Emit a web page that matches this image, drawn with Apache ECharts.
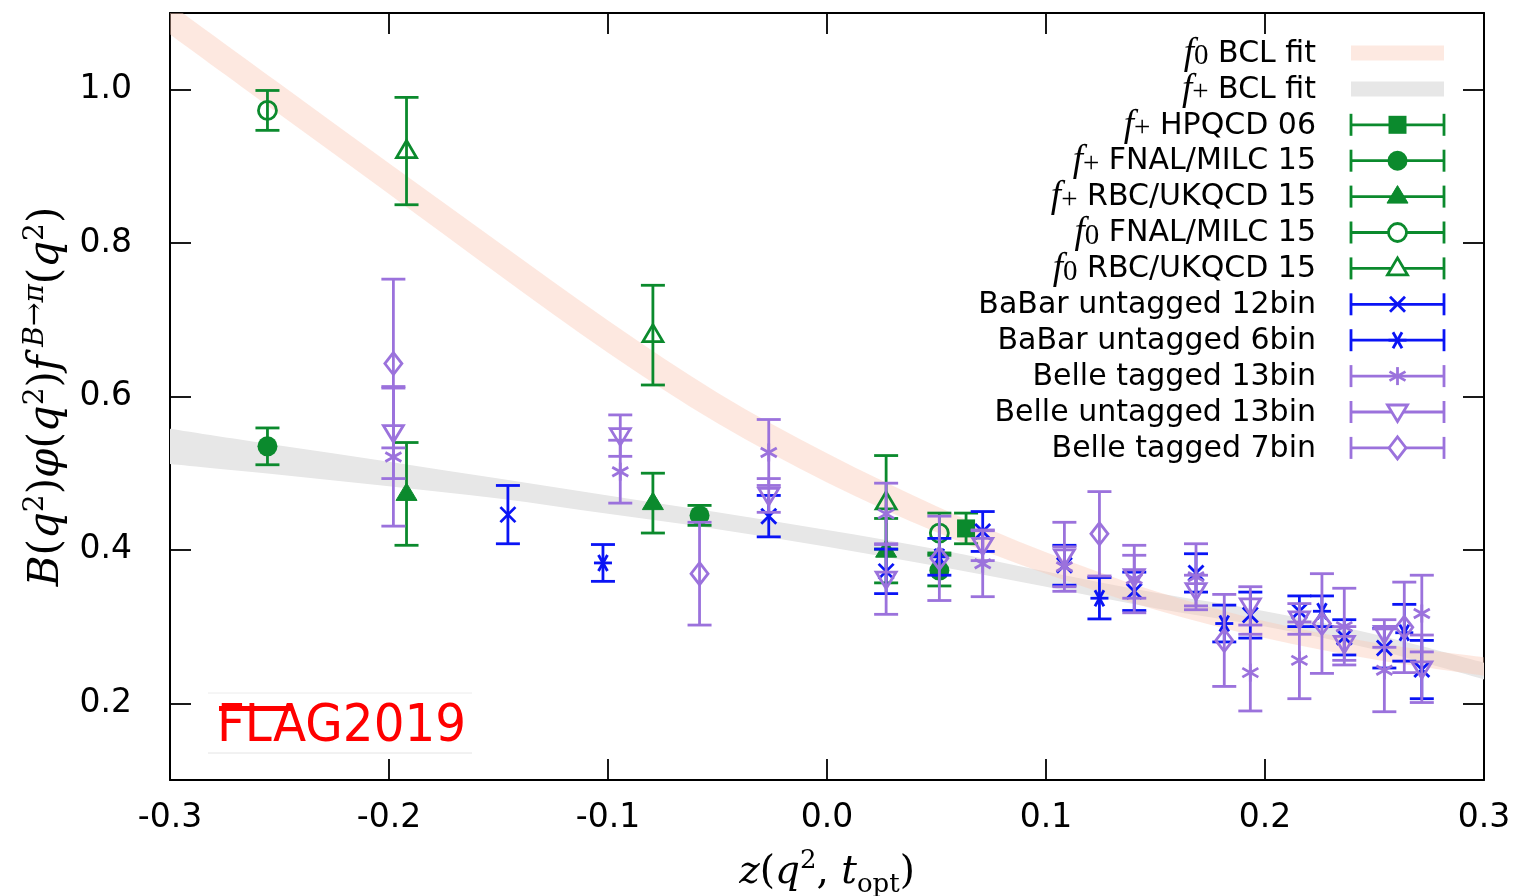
<!DOCTYPE html>
<html><head><meta charset="utf-8">
<script src="https://cdn.jsdelivr.net/npm/echarts@6/dist/echarts.min.js"></script>
<style>html,body{margin:0;padding:0;background:#fff}#c{width:1517px;height:896px}</style>
</head><body><div id="c"></div>
<script>
// ---------------- data ----------------
const xTickLabels = ['-0.3', '-0.2', '-0.1', '0.0', '0.1', '0.2', '0.3'];
const yTickLabels = ['0.2', '0.4', '0.6', '0.8', '1.0'];

// BCL fit bands (centre and half-width)
const bandZ      = [-0.30, -0.25, -0.20, -0.15, -0.10, -0.05, 0.00, 0.05, 0.10, 0.15, 0.20, 0.25, 0.30];
const f0Center   = [1.092, 0.988, 0.884, 0.780, 0.678, 0.585, 0.507, 0.440, 0.383, 0.334, 0.296, 0.268, 0.248];
const f0HalfW    = [0.020, 0.020, 0.020, 0.021, 0.021, 0.020, 0.019, 0.017, 0.014, 0.012, 0.011, 0.011, 0.012];
const fpCenter   = [0.535, 0.517, 0.499, 0.480, 0.459, 0.438, 0.415, 0.390, 0.362, 0.334, 0.310, 0.280, 0.242];
const fpHalfW    = [0.023, 0.019, 0.016, 0.013, 0.012, 0.011, 0.011, 0.011, 0.010, 0.010, 0.010, 0.010, 0.011];

// lattice
const hpqcdZ = [0.0635];                     const hpqcdV = [0.428];                 const hpqcdE = [0.020];
const fnalPZ = [-0.2555, -0.0582, 0.0513];   const fnalPV = [0.535, 0.445, 0.373];   const fnalPE = [0.024, 0.013, 0.020];
const rbcPZ  = [-0.192, -0.0795, 0.027];     const rbcPV  = [0.473, 0.461, 0.399];   const rbcPE  = [0.067, 0.039, 0.042];
const fnal0Z = [-0.2555, 0.0513];            const fnal0V = [0.973, 0.422];          const fnal0E = [0.026, 0.026];
const rbc0Z  = [-0.192, -0.0795, 0.027];     const rbc0V  = [0.920, 0.680, 0.462];   const rbc0E  = [0.070, 0.065, 0.061];

// experiment
const babar12Z = [-0.1457, -0.0266, 0.027, 0.0711, 0.1084, 0.1403, 0.1685, 0.1933, 0.2157, 0.2362, 0.2545, 0.2716];
const babar12V = [0.446, 0.444, 0.372, 0.424, 0.380, 0.346, 0.370, 0.315, 0.320, 0.286, 0.272, 0.244];
const babar12E = [0.038, 0.027, 0.029, 0.026, 0.026, 0.025, 0.025, 0.030, 0.020, 0.023, 0.026, 0.038];
const babar6Z  = [-0.1023, 0.0513, 0.1244, 0.1814, 0.226, 0.2636];
const babar6V  = [0.383, 0.391, 0.337, 0.304, 0.320, 0.292];
const babar6E  = [0.024, 0.024, 0.027, 0.024, 0.020, 0.037];
const belle13Z = [-0.198, -0.0944, -0.0266, 0.027, 0.0711, 0.1084, 0.1403, 0.1685, 0.1933, 0.2157, 0.2362, 0.2545, 0.2716];
const belleT13V = [0.521, 0.502, 0.527, 0.447, 0.382, 0.378, 0.362, 0.365, 0.240, 0.256, 0.300, 0.243, 0.317];
const belleT13E = [0.090, 0.041, 0.043, 0.040, 0.043, 0.026, 0.044, 0.043, 0.050, 0.050, 0.050, 0.054, 0.050];
const belleU13V = [0.553, 0.549, 0.471, 0.362, 0.406, 0.391, 0.365, 0.347, 0.327, 0.310, 0.278, 0.291, 0.245];
const belleU13E = [0.060, 0.027, 0.022, 0.046, 0.020, 0.045, 0.028, 0.020, 0.025, 0.020, 0.022, 0.018, 0.044];
const belle7Z  = [-0.198, -0.0582, 0.0513, 0.1244, 0.1814, 0.226, 0.2636];
const belle7V  = [0.643, 0.369, 0.389, 0.421, 0.282, 0.304, 0.299];
const belle7E  = [0.110, 0.067, 0.055, 0.055, 0.060, 0.065, 0.059];

// ---------------- style ----------------
const SANS = 'DejaVu Sans';
const SERIF = 'Liberation Serif';
const MATH = 'DejaVu Serif';
const GREEN = '#0b8a2d', BLUE = '#0a14f5', PURPLE = '#9b72dc';
const PINK = 'rgba(250,200,180,0.42)', GREY = '#e7e7e7';
const LW = 2.8, CAP = 12;

function markerEls(kind, cx, cy, color, bg) {
  const open = {stroke: color, lineWidth: LW, fill: bg || 'none'};
  const ln = (x1, y1, x2, y2) => ({type: 'line', shape: {x1, y1, x2, y2}, style: {stroke: color, lineWidth: LW}});
  switch (kind) {
    case 'square': return [{type: 'rect', shape: {x: cx - 9, y: cy - 9, width: 18, height: 18}, style: {fill: color}}];
    case 'circle': return [{type: 'circle', shape: {cx, cy, r: 10}, style: {fill: color}}];
    case 'triangle': return [{type: 'polygon', shape: {points: [[cx, cy - 11], [cx + 10.5, cy + 6.5], [cx - 10.5, cy + 6.5]]}, style: {fill: color, stroke: color, lineWidth: 1}}];
    case 'ocircle': return [{type: 'circle', shape: {cx, cy, r: 9}, style: open}];
    case 'otriangle': return [{type: 'polygon', shape: {points: [[cx, cy - 10.5], [cx + 10, cy + 6.5], [cx - 10, cy + 6.5]]}, style: open}];
    case 'otridown': return [{type: 'polygon', shape: {points: [[cx - 10, cy - 7], [cx + 10, cy - 7], [cx, cy + 9.5]]}, style: open}];
    case 'odiamond': return [{type: 'polygon', shape: {points: [[cx, cy - 11], [cx + 8.5, cy], [cx, cy + 11], [cx - 8.5, cy]]}, style: open}];
    case 'x': return [ln(cx - 7.5, cy - 7.5, cx + 7.5, cy + 7.5), ln(cx - 7.5, cy + 7.5, cx + 7.5, cy - 7.5)];
    case 'star6h': return [ln(cx - 9, cy, cx + 9, cy), ln(cx - 4.5, cy - 8, cx + 4.5, cy + 8), ln(cx - 4.5, cy + 8, cx + 4.5, cy - 8)];
    case 'star6v': return [ln(cx, cy - 9, cx, cy + 9), ln(cx - 8, cy - 4.5, cx + 8, cy + 4.5), ln(cx - 8, cy + 4.5, cx + 8, cy - 4.5)];
  }
  return [];
}

function errRender(kind, color) {
  return function (params, api) {
    const x = api.value(0), y = api.value(1), e = api.value(2);
    const p = api.coord([x, y]);
    const t = api.coord([x, y + e]);
    const b = api.coord([x, y - e]);
    const st = () => ({stroke: color, lineWidth: LW});
    return {type: 'group', children: [
      {type: 'line', shape: {x1: p[0], y1: t[1], x2: p[0], y2: b[1]}, style: st()},
      {type: 'line', shape: {x1: p[0] - CAP, y1: t[1], x2: p[0] + CAP, y2: t[1]}, style: st()},
      {type: 'line', shape: {x1: p[0] - CAP, y1: b[1], x2: p[0] + CAP, y2: b[1]}, style: st()}
    ].concat(markerEls(kind, p[0], p[1], color))};
  };
}

// smooth curve segments through pixel points (Catmull-Rom as cubic Bezier)
function curveThrough(pts) {
  let d = '';
  for (let i = 0; i < pts.length - 1; i++) {
    const p0 = pts[Math.max(i - 1, 0)], p1 = pts[i], p2 = pts[i + 1], p3 = pts[Math.min(i + 2, pts.length - 1)];
    const c1x = p1[0] + (p2[0] - p0[0]) / 6, c1y = p1[1] + (p2[1] - p0[1]) / 6;
    const c2x = p2[0] - (p3[0] - p1[0]) / 6, c2y = p2[1] - (p3[1] - p1[1]) / 6;
    d += ' C ' + c1x + ' ' + c1y + ' ' + c2x + ' ' + c2y + ' ' + p2[0] + ' ' + p2[1];
  }
  return d;
}
function bandRender(rows, color) {
  return function (params, api) {
    if (params.dataIndex !== 0) return null;
    const top = rows.map(r => api.coord([r[0], r[2]]));
    const bot = rows.map(r => api.coord([r[0], r[1]])).reverse();
    const d = 'M ' + top[0][0] + ' ' + top[0][1] + curveThrough(top) +
              ' L ' + bot[0][0] + ' ' + bot[0][1] + curveThrough(bot) + ' Z';
    const cs = params.coordSys;
    return {type: 'path', shape: {pathData: d}, style: {fill: color},
      clipPath: {type: 'rect', shape: {x: cs.x, y: cs.y, width: cs.width, height: cs.height}}};
  };
}

const pointSets = [
  {name: 'f+ HPQCD 06',          label: '{f|f}{s|+}{t| HPQCD 06}',        kind: 'square',    color: GREEN,  z: hpqcdZ,   v: hpqcdV,    e: hpqcdE},
  {name: 'f+ FNAL/MILC 15',      label: '{f|f}{s|+}{t| FNAL/MILC 15}',    kind: 'circle',    color: GREEN,  z: fnalPZ,   v: fnalPV,    e: fnalPE},
  {name: 'f+ RBC/UKQCD 15',      label: '{f|f}{s|+}{t| RBC/UKQCD 15}',    kind: 'triangle',  color: GREEN,  z: rbcPZ,    v: rbcPV,     e: rbcPE},
  {name: 'f0 FNAL/MILC 15',      label: '{f|f}{s|0}{t| FNAL/MILC 15}',    kind: 'ocircle',   color: GREEN,  z: fnal0Z,   v: fnal0V,    e: fnal0E},
  {name: 'f0 RBC/UKQCD 15',      label: '{f|f}{s|0}{t| RBC/UKQCD 15}',    kind: 'otriangle', color: GREEN,  z: rbc0Z,    v: rbc0V,     e: rbc0E},
  {name: 'BaBar untagged 12bin', label: '{t|BaBar untagged 12bin}',       kind: 'x',         color: BLUE,   z: babar12Z, v: babar12V,  e: babar12E},
  {name: 'BaBar untagged 6bin',  label: '{t|BaBar untagged 6bin}',        kind: 'star6h',    color: BLUE,   z: babar6Z,  v: babar6V,   e: babar6E},
  {name: 'Belle tagged 13bin',   label: '{t|Belle tagged 13bin}',         kind: 'star6v',    color: PURPLE, z: belle13Z, v: belleT13V, e: belleT13E},
  {name: 'Belle untagged 13bin', label: '{t|Belle untagged 13bin}',       kind: 'otridown',  color: PURPLE, z: belle13Z, v: belleU13V, e: belleU13E},
  {name: 'Belle tagged 7bin',    label: '{t|Belle tagged 7bin}',          kind: 'odiamond',  color: PURPLE, z: belle7Z,  v: belle7V,   e: belle7E}
];
const bands = [
  {name: 'f0 BCL fit', label: '{f|f}{s|0}{t| BCL fit}', c: f0Center, w: f0HalfW, color: PINK, key: '#fde9e1'},
  {name: 'f+ BCL fit', label: '{f|f}{s|+}{t| BCL fit}', c: fpCenter, w: fpHalfW, color: GREY, key: GREY}
];

// ---------------- series ----------------
const series = [];
[bands[1], bands[0]].forEach(bd => {
  const rows = bandZ.map((z, i) => [z, bd.c[i] - bd.w[i], bd.c[i] + bd.w[i]]);
  series.push({type: 'custom', name: bd.name, z: 1, silent: true, clip: true,
    renderItem: bandRender(rows, bd.color), itemStyle: {color: bd.color}, data: rows});
});
pointSets.forEach(ps => {
  series.push({type: 'custom', name: ps.name, z: 3, renderItem: errRender(ps.kind, ps.color),
    itemStyle: {color: ps.color}, data: ps.z.map((z, i) => [z, ps.v[i], ps.e[i]])});
});

// ---------------- legend (graphic) ----------------
const legendRich = {
  t: {fontFamily: SANS, fontSize: 30, lineHeight: 34, color: '#000'},
  f: {fontFamily: SERIF, fontStyle: 'italic', fontSize: 37, lineHeight: 34, color: '#000'},
  s: {fontFamily: SERIF, fontSize: 29, lineHeight: 24, verticalAlign: 'bottom', color: '#000'}
};
const LEG = {textRight: 1316, x1: 1351, x2: 1444, y0: 53, dy: 35.9};
const graphics = [];
const legendItems = bands.map(b => ({label: b.label, band: b.key}))
  .concat(pointSets.map(p => ({label: p.label, kind: p.kind, color: p.color})));
legendItems.forEach((it, i) => {
  const cy = LEG.y0 + i * LEG.dy;
  graphics.push({type: 'text', x: LEG.textRight, y: cy + 1, z: 10,
    style: {text: it.label, rich: legendRich, align: 'right', verticalAlign: 'middle', fill: '#000'}});
  if (it.band) {
    graphics.push({type: 'rect', z: 10, shape: {x: LEG.x1, y: cy - 7.5, width: LEG.x2 - LEG.x1, height: 15},
      style: {fill: it.band}});
  } else {
    const st = () => ({stroke: it.color, lineWidth: LW});
    const cx = (LEG.x1 + LEG.x2) / 2;
    graphics.push({type: 'group', z: 10, children: [
      {type: 'line', shape: {x1: LEG.x1, y1: cy, x2: LEG.x2, y2: cy}, style: st()},
      {type: 'line', shape: {x1: LEG.x1, y1: cy - 11, x2: LEG.x1, y2: cy + 11}, style: st()},
      {type: 'line', shape: {x1: LEG.x2, y1: cy - 11, x2: LEG.x2, y2: cy + 11}, style: st()}
    ].concat(markerEls(it.kind, cx, cy, it.color, '#fff'))});
  }
});
// FLAG logo
graphics.push({type: 'line', z: 10, shape: {x1: 208, y1: 693, x2: 472, y2: 693}, style: {stroke: '#ececec', lineWidth: 1}});
graphics.push({type: 'line', z: 10, shape: {x1: 208, y1: 753, x2: 472, y2: 753}, style: {stroke: '#e4e4e4', lineWidth: 1}});
graphics.push({type: 'text', z: 10, x: 217, y: 728, scaleX: 0.95,
  style: {text: 'FLAG2019', fontFamily: SANS, fontSize: 51, fill: '#ff0000', align: 'left', verticalAlign: 'middle'}});
graphics.push({type: 'rect', z: 10, shape: {x: 219, y: 706, width: 73, height: 5}, style: {fill: '#ff0000'}});

// ---------------- axes ----------------
function mathRich(size, subLH) {
  const sub = Math.round(size * 0.67);
  return {
    i: {fontFamily: MATH, fontStyle: 'italic', fontSize: size, lineHeight: 50, color: '#000'},
    r: {fontFamily: MATH, fontSize: size, lineHeight: 50, color: '#000'},
    p: {fontFamily: MATH, fontSize: sub, lineHeight: 32, verticalAlign: 'top', color: '#000'},
    pi: {fontFamily: MATH, fontStyle: 'italic', fontSize: sub, lineHeight: 32, verticalAlign: 'top', color: '#000'},
    b: {fontFamily: MATH, fontSize: sub, lineHeight: subLH, verticalAlign: 'bottom', color: '#000'}
  };
}
const frameLine = {show: true, onZero: false, lineStyle: {color: '#000', width: 2}};
const tickIn = {show: true, inside: true, length: 21, lineStyle: {color: '#000', width: 1.8}};
const xFmt = v => { const s = (Math.abs(v) < 1e-9 ? 0 : v).toFixed(1); return xTickLabels.indexOf(s) >= 0 ? s : ''; };
const yFmt = v => { const k = Math.round(v * 10); const s = v.toFixed(1);
  return (Math.abs(v * 10 - k) < 1e-6 && k % 2 === 0 && yTickLabels.indexOf(s) >= 0) ? s : ''; };

const option = {
  animation: false,
  backgroundColor: '#fff',
  grid: {left: 170, right: 33, top: 13, bottom: 116, containLabel: false, outerBoundsMode: 'none'},
  xAxis: [
    {type: 'value', min: -0.3, max: 0.3, interval: 0.1, position: 'bottom',
      axisLine: frameLine, axisTick: tickIn, splitLine: {show: false},
      axisLabel: {margin: 22, fontFamily: SANS, fontSize: 33, color: '#000', formatter: xFmt},
      name: '{i|z}{r|(}{i|q}{p|2}{r|, }{i|t}{b|opt}{r|)}', nameLocation: 'middle', nameGap: 68,
      nameTextStyle: {rich: mathRich(39, 36)}},
    {type: 'value', min: -0.3, max: 0.3, interval: 0.1, position: 'top',
      axisLine: frameLine, axisTick: tickIn, splitLine: {show: false}, axisLabel: {show: false}}
  ],
  yAxis: [
    {type: 'value', min: 0.1, max: 1.1, splitNumber: 5, position: 'left',
      axisLine: frameLine, axisTick: tickIn, splitLine: {show: false},
      axisLabel: {margin: 38, fontFamily: SANS, fontSize: 33, color: '#000', formatter: yFmt, showMinLabel: false, showMaxLabel: false},
      name: '{i|B}{r|(}{i|q}{p|2}{r|)}{i|φ}{r|(}{i|q}{p|2}{r|)}{i|f}{pi| B→π}{r|(}{i|q}{p|2}{r|)}',
      nameLocation: 'middle', nameGap: 98, nameTextStyle: {rich: mathRich(42, 28)}},
    {type: 'value', min: 0.1, max: 1.1, splitNumber: 5, position: 'right',
      axisLine: frameLine, axisTick: tickIn, splitLine: {show: false}, axisLabel: {show: false}}
  ],
  series: series,
  graphic: graphics
};
const chart = echarts.init(document.getElementById('c'), null, {renderer: 'canvas'});
chart.setOption(option);
</script>
</body></html>
